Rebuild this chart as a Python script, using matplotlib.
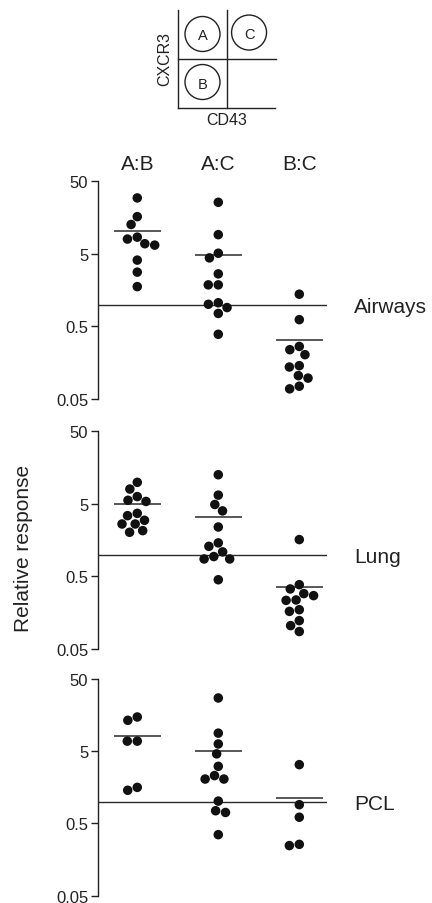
import matplotlib
matplotlib.use('Agg')
import matplotlib.pyplot as plt
import numpy as np
from matplotlib.patches import Circle
from matplotlib.ticker import NullLocator

plt.rcParams['font.family'] = ['Liberation Sans', 'DejaVu Sans']

# ---------------- data ----------------
groups = ['A:B', 'A:C', 'B:C']
tissues = ['Airways', 'Lung', 'PCL']

airways_AB = [29.5, 16.3, 12.7, 8.0, 8.5, 6.6, 6.9, 4.1, 2.8, 1.77]
airways_AC = [25.7, 9.2, 5.1, 4.4, 2.65, 1.87, 1.87, 1.06, 1.01, 0.91, 0.755, 0.39]
airways_BC = [1.39, 0.62, 0.265, 0.239, 0.204, 0.138, 0.144, 0.097, 0.105, 0.069, 0.075]
airways_means = [10.4, 4.84, 0.328]

lung_AB = [9.9, 8.0, 6.3, 5.4, 5.6, 3.7, 3.44, 2.97, 2.64, 2.64, 2.03, 2.14]
lung_AC = [12.6, 6.6, 4.9, 4.0, 2.4, 1.45, 1.30, 1.09, 0.94, 0.87, 0.87, 0.45]
lung_BC = [1.61, 0.385, 0.336, 0.29, 0.272, 0.237, 0.234, 0.174, 0.165, 0.123, 0.105, 0.087]
lung_means = [5.0, 3.27, 0.354]

pcl_AB = [14.9, 13.4, 6.9, 6.9, 1.58, 1.44]
pcl_AC = [27.3, 8.9, 6.3, 4.6, 3.09, 2.30, 2.06, 2.06, 1.02, 0.75, 0.71, 0.35]
pcl_BC = [3.26, 0.91, 0.61, 0.257, 0.247]
pcl_means = [8.1, 5.1, 1.14]

reference_value = 1.0
y_ticks = [0.05, 0.5, 5, 50]
y_ticklabels = ['0.05', '0.5', '5', '50']

panel_data = [
    (airways_AB, airways_AC, airways_BC, airways_means),
    (lung_AB, lung_AC, lung_BC, lung_means),
    (pcl_AB, pcl_AC, pcl_BC, pcl_means),
]

# ---------------- layout ----------------
W, H = 432, 904
fig = plt.figure(figsize=(W / 100, H / 100), dpi=100)


def px_axes(left, top, right, bottom):
    return fig.add_axes([left / W, 1 - bottom / H, (right - left) / W, (bottom - top) / H])


def swarm(values, ax_h_px, ylo, yhi, d):
    """Simple beeswarm in pixel space; returns x offsets in pixels."""
    ypx = (np.log10(values) - np.log10(ylo)) / (np.log10(yhi) - np.log10(ylo)) * ax_h_px
    order = np.argsort(-ypx, kind='stable')
    placed = []
    xs = np.zeros(len(values))
    for i in order:
        y = ypx[i]
        cands = [0.0]
        for (qx, qy) in placed:
            dy = abs(y - qy)
            if dy < d:
                dx = np.sqrt(d * d - dy * dy)
                cands += [qx - dx, qx + dx]
        cands = sorted(cands, key=lambda c: (round(abs(c), 4), c))
        for c in cands:
            if all((c - qx) ** 2 + (y - qy) ** 2 >= d * d - 1e-6 for qx, qy in placed):
                xs[i] = c
                break
        placed.append((xs[i], y))
    return xs


ax_left, ax_right = 98.3, 327.0
tops = [182.3, 432.3, 680.0]
bottoms = [400.0, 650.0, 896.7]
xlim = (0.519, 3.342)
ppu = (ax_right - ax_left) / (xlim[1] - xlim[0])  # pixels per x unit

dot_color = '#111111'
line_color = '#2a2a2a'

for p, (tissue, top, bottom) in enumerate(zip(tissues, tops, bottoms)):
    ax = px_axes(ax_left, top, ax_right, bottom)
    ax.set_yscale('log')
    ax.set_ylim(0.05, 50)
    ax.set_xlim(*xlim)
    ax_h = bottom - top
    ab, ac, bc, means = panel_data[p]
    for i, vals in enumerate([ab, ac, bc]):
        vals = np.asarray(vals, dtype=float)
        offs = swarm(vals, ax_h, 0.05, 50, 10.0) / ppu
        ax.scatter(i + 1 + offs, vals, s=47, color=dot_color, edgecolors='none',
                   zorder=3, clip_on=False)
        ax.hlines(means[i], i + 1 - 0.29, i + 1 + 0.29, color=line_color, lw=1.1, zorder=2)
    ax.axhline(reference_value, color=line_color, lw=1.0, zorder=1)

    for s in ['top', 'right', 'bottom']:
        ax.spines[s].set_visible(False)
    ax.spines['left'].set_linewidth(1.0)
    ax.spines['left'].set_color('#222222')
    ax.set_xticks([])
    ax.set_yticks(y_ticks)
    ax.set_yticklabels(y_ticklabels)
    ax.yaxis.set_minor_locator(NullLocator())
    ax.tick_params(axis='y', length=4.8, width=1.0, pad=2.4, labelsize=12,
                   color='#222222', labelcolor='#222222')

    ax.annotate(tissue, xy=(1, reference_value), xycoords=('axes fraction', 'data'),
                xytext=(19.4, 0), textcoords='offset points', ha='left',
                va='center_baseline', fontsize=15, color='#222222')

    if p == 0:
        for i, g in enumerate(groups):
            ax.annotate(g, xy=(i + 1, 1), xycoords=('data', 'axes fraction'),
                        xytext=(0, 14.3), textcoords='offset points', ha='center',
                        va='center_baseline', fontsize=15, color='#222222')

fig.text(24 / W, 1 - 548 / H, 'Relative response', rotation=90, ha='center',
         va='center', fontsize=15, color='#222222')

# ---------------- quadrant diagram ----------------
axd = px_axes(178, 10.5, 276, 108.5)
axd.set_xlim(0, 2)
axd.set_ylim(0, 2)
axd.axis('off')
lw_d = 1.0
axd.plot([0, 0], [0, 2], color='#222222', lw=lw_d, clip_on=False)
axd.plot([1, 1], [0, 2], color='#222222', lw=lw_d, clip_on=False)
axd.plot([0, 2.01], [1, 1], color='#222222', lw=lw_d, clip_on=False)
axd.plot([0, 1.97], [0, 0], color='#222222', lw=lw_d, clip_on=False)
for (cx, cy, lab) in [(0.5, 1.5, 'A'), (1.45, 1.53, 'C'), (0.5, 0.52, 'B')]:
    axd.add_patch(Circle((cx, cy), 0.357, fill=False, ec='#222222', lw=lw_d, clip_on=False))
    axd.text(cx, cy, lab, ha='center', va='center_baseline', fontsize=10.5, color='#222222')
axd.text(-0.265, 1.0, 'CXCR3', rotation=90, ha='center', va='center', fontsize=11.5,
         color='#222222')
axd.text(1.0, -0.235, 'CD43', ha='center', va='center', fontsize=11.5, color='#222222')

fig.savefig('out.png', dpi=100)
